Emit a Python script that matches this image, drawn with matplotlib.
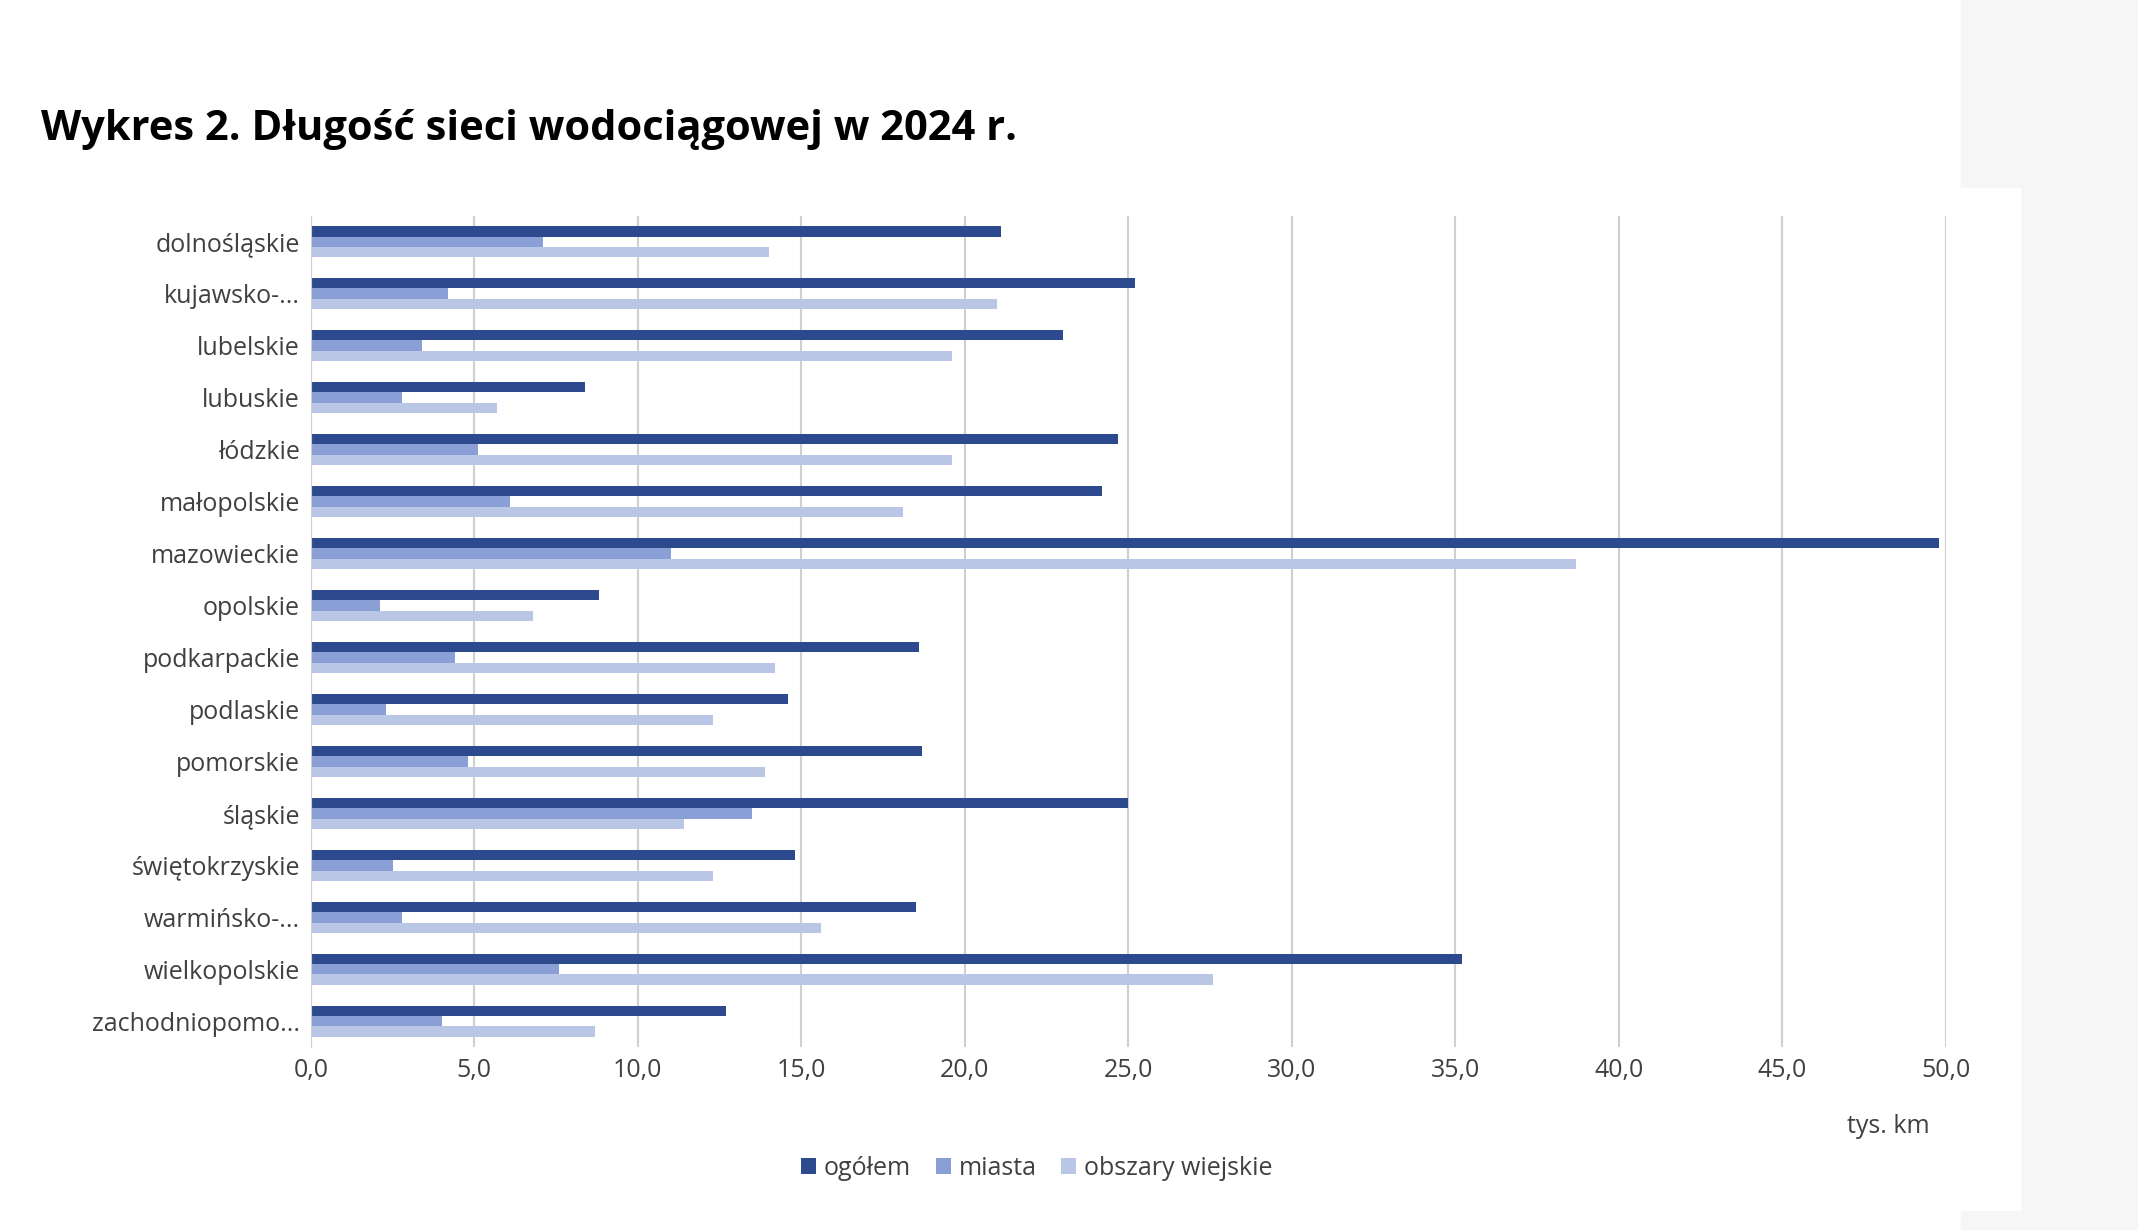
import numpy as np
import matplotlib.pyplot as plt
from matplotlib.patches import Rectangle

plt.rcParams["font.family"] = "Open Sans"

"DANE"
woj = ["dolnośląskie", "kujawsko-...", "lubelskie", "lubuskie", "łódzkie", "małopolskie",
       "mazowieckie", "opolskie", "podkarpackie", "podlaskie", "pomorskie", "śląskie",
       "świętokrzyskie", "warmińsko-...", "wielkopolskie", "zachodniopomo..."]
ogolem = [21.1, 25.2, 23.0, 8.4, 24.7, 24.2, 49.8, 8.8, 18.6, 14.6, 18.7, 25.0, 14.8, 18.5, 35.2, 12.7]
miasta = [7.1, 4.2, 3.4, 2.8, 5.1, 6.1, 11.0, 2.1, 4.4, 2.3, 4.8, 13.5, 2.5, 2.8, 7.6, 4.0]
wiejskie = [14.0, 21.0, 19.6, 5.7, 19.6, 18.1, 38.7, 6.8, 14.2, 12.3, 13.9, 11.4, 12.3, 15.6, 27.6, 8.7]
xticks = np.arange(0, 50.1, 5)

kolory = ["#2E4A8E", "#8A9FD6", "#B9C6E6"]

fig = plt.figure(figsize=(21.38, 12.3), dpi=100)
fig.patch.set_facecolor("white")
# tlo po prawej
fig.patches.append(Rectangle((0.917, 0), 0.083, 1, transform=fig.transFigure, color="#F6F6F6", zorder=-10))
fig.patches.append(Rectangle((0.917, 0.016), 0.028, 0.831, transform=fig.transFigure, color="white", zorder=-9))

ax = fig.add_axes([0.1454, 0.1486, 0.7646, 0.676])
y = np.arange(len(woj))
h = 0.2
ax.barh(y - h, ogolem, height=h, color=kolory[0], label="ogółem")
ax.barh(y, miasta, height=h, color=kolory[1], label="miasta")
ax.barh(y + h, wiejskie, height=h, color=kolory[2], label="obszary wiejskie")

ax.set_ylim(len(woj) - 0.5, -0.5)
ax.set_xlim(0, 50)
ax.set_yticks(y)
ax.set_yticklabels(woj, fontsize=18, color="#404040")
ax.set_xticks(xticks)
ax.set_xticklabels([f"{v:.1f}".replace(".", ",") for v in xticks], fontsize=18, color="#404040")
ax.tick_params(length=0, pad=8)
ax.grid(axis="x", color="#D0D0D0", lw=1.5)
ax.set_axisbelow(True)
for s in ["top", "right", "bottom"]:
    ax.spines[s].set_visible(False)
ax.spines["left"].set_color("#D0D0D0")

fig.text(0.019, 0.895, "Wykres 2. Długość sieci wodociągowej w 2024 r.", fontsize=30,
         fontweight="bold", va="center")
fig.text(0.883, 0.084, "tys. km", fontsize=18, color="#404040", ha="center", va="center")
fig.legend(loc="center", bbox_to_anchor=(0.485, 0.05), ncol=3, frameon=False, fontsize=18,
           handlelength=0.6, handleheight=0.6, columnspacing=1.0, handletextpad=0.3,
           labelcolor="#404040")

fig.savefig("out.png", dpi=100)
